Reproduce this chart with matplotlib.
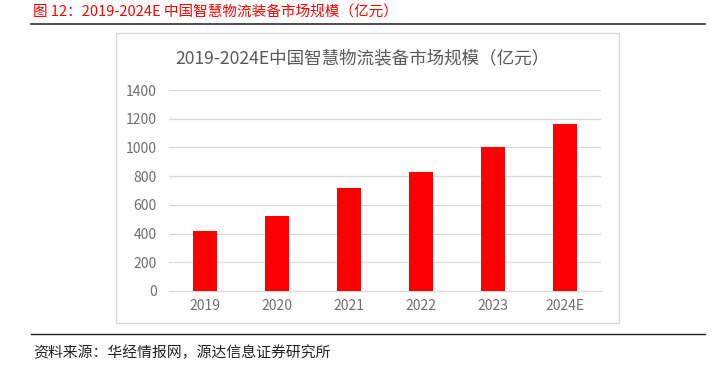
import matplotlib.pyplot as plt
from matplotlib.patches import Rectangle
from matplotlib.lines import Line2D

plt.rcParams["font.family"] = ["Noto Sans CJK SC", "DejaVu Sans"]

# Dados
anos = ["2019", "2020", "2021", "2022", "2023", "2024E"]
valores = [421, 519, 714, 830, 1005, 1165]
yticks = [0, 200, 400, 600, 800, 1000, 1200, 1400]

W, H = 724, 365
fig = plt.figure(figsize=(W / 100, H / 100), dpi=100)


def fx(px):
    return px / W


def fy(py):
    return 1 - py / H


# Cabeçalho
fig.text(fx(33), fy(12), "图 12：2019-2024E 中国智慧物流装备市场规模（亿元）",
         color="#ff0000", fontsize=10.5, va="center", ha="left")
fig.add_artist(Line2D([fx(31), fx(705)], [fy(24), fy(24)], color="#404040", lw=1.3))
fig.add_artist(Line2D([fx(31), fx(705)], [fy(334), fy(334)], color="#202020", lw=1.0))
fig.text(fx(33), fy(353), "资料来源：华经情报网，源达信息证券研究所",
         color="#222222", fontsize=10.7, va="center", ha="left")

# Caixa do gráfico
caixa = Rectangle((fx(116), fy(323)), fx(619) - fx(116), fy(33) - fy(323),
                  transform=fig.transFigure, facecolor="white",
                  edgecolor="#d9d9d9", lw=1.0, zorder=-1)
fig.add_artist(caixa)

fig.text(fx(362), fy(58), "2019-2024E中国智慧物流装备市场规模（亿元）",
         color="#595959", fontsize=12.6, va="center", ha="center")

ax = fig.add_axes([fx(169), fy(291), fx(601) - fx(169), fy(90) - fy(291)])
ax.bar(range(len(anos)), valores, width=0.32, color="#ff0000", zorder=3)
ax.set_xlim(-0.5, len(anos) - 0.5)
ax.set_ylim(0, 1400)
ax.set_yticks(yticks)
ax.set_xticks(range(len(anos)))
ax.set_xticklabels(anos)
ax.tick_params(axis="both", length=0, labelsize=10, colors="#6f6f6f")
ax.tick_params(axis="y", pad=9)
ax.tick_params(axis="x", pad=6)
ax.grid(axis="y", color="#d9d9d9", lw=0.9, zorder=0)
for s in ["top", "right", "left"]:
    ax.spines[s].set_visible(False)
ax.spines["bottom"].set_color("#d9d9d9")
ax.patch.set_alpha(0)

fig.savefig("out.png", dpi=100)
